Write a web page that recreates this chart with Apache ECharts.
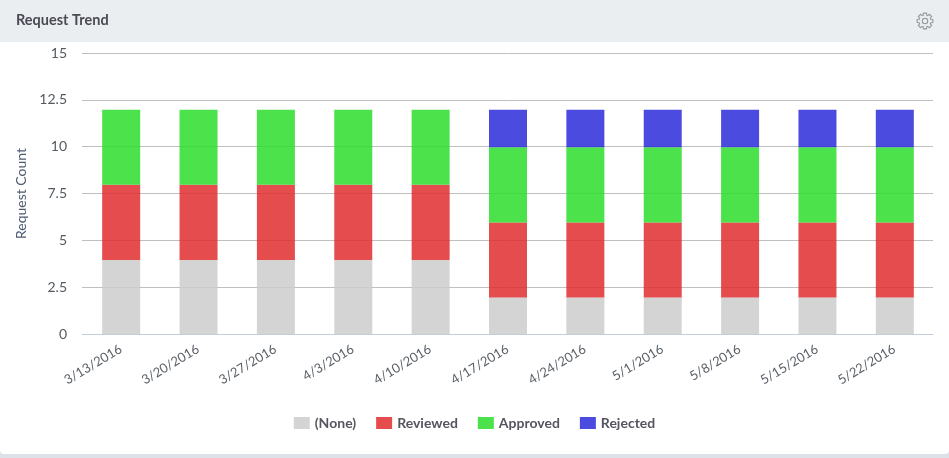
<!DOCTYPE html>
<html><head><meta charset="utf-8">
<style>html,body{margin:0;padding:0;background:#fff}#c{width:949px;height:458px}</style>
<script src="https://cdn.jsdelivr.net/npm/echarts@6/dist/echarts.min.js"></script>
</head><body><div id="c"></div>
<script>
const categories=['3/13/2016','3/20/2016','3/27/2016','4/3/2016','4/10/2016','4/17/2016','4/24/2016','5/1/2016','5/8/2016','5/15/2016','5/22/2016'];
const none=[4,4,4,4,4,2,2,2,2,2,2];
const reviewed=[4,4,4,4,4,4,4,4,4,4,4];
const approved=[4,4,4,4,4,4,4,4,4,4,4];
const rejected=[0,0,0,0,0,2,2,2,2,2,2];
const yTicks={min:0,max:15,interval:2.5};
const font='Lato';
const gearPts=[];
for(let i=0;i<8;i++){
  const a=i*Math.PI/4;
  [[-0.3,6],[-0.2,8],[0.2,8],[0.3,6]].forEach(([d,r])=>gearPts.push([r*Math.cos(a+d),r*Math.sin(a+d)]));
}
const mk=(name,data,color)=>({name,type:'bar',stack:'s',data,barWidth:38,xAxisIndex:1,yAxisIndex:1,
  itemStyle:{color,opacity:0.85},emphasis:{disabled:true}});
const chart=echarts.init(document.getElementById('c'),null,{renderer:'canvas'});
chart.setOption({
  animation:false,
  textStyle:{fontFamily:font},
  grid:[
    {left:82,right:16,top:53,bottom:124},
    {left:82.5,right:15.5,top:53.5,bottom:123}
  ],
  legend:{bottom:23,left:'center',itemWidth:16,itemHeight:12,itemGap:20,icon:'rect',selectedMode:false,
    itemStyle:{opacity:0.85},
    textStyle:{fontFamily:font,fontSize:14,fontWeight:'bold',color:'#555560'},
    data:['(None)','Reviewed','Approved','Rejected']},
  xAxis:[
    {type:'category',gridIndex:0,data:categories,z:5,
     axisLine:{lineStyle:{color:'#c0d0e0',width:1}},
     axisTick:{alignWithLabel:true,length:10,lineStyle:{color:'#c0d0e0'}},
     axisLabel:{rotate:31,interval:0,fontFamily:font,fontSize:13,color:'#5a6068',margin:14}},
    {type:'category',gridIndex:1,data:categories,show:false}
  ],
  yAxis:[
    {type:'value',gridIndex:0,min:yTicks.min,max:yTicks.max,interval:yTicks.interval,
     name:'Request Count',nameLocation:'middle',nameGap:45,
     nameTextStyle:{fontFamily:font,fontSize:14,color:'#4d5a70'},
     axisLine:{show:false},axisTick:{show:false},
     axisLabel:{fontFamily:font,fontSize:14,color:'#555a60',margin:15},
     splitLine:{lineStyle:{color:'#bfbfbf',width:1}}},
    {type:'value',gridIndex:1,min:yTicks.min,max:yTicks.max,interval:yTicks.interval,show:false,splitLine:{show:false}}
  ],
  series:[mk('(None)',none,'#cccccc'),mk('Reviewed',reviewed,'#e12d2f'),mk('Approved',approved,'#2cdd2c'),mk('Rejected',rejected,'#2c2cdb')],
  graphic:[
    {type:'rect',z:-1,shape:{x:0,y:0,width:949,height:42},style:{fill:'#ebeef1'}},
    {type:'rect',z:-2,shape:{x:0,y:446,width:949,height:12},style:{fill:'#dde2e8'}},
    {type:'rect',z:-1,shape:{x:0,y:440,width:949,height:14,r:[0,0,4,4]},style:{fill:'#ffffff'}},
    {type:'text',x:16,y:13,style:{text:'Request Trend',font:'bold 14.5px '+font,fill:'#4a4a55'}},
    {type:'polygon',x:925,y:21,shape:{points:gearPts},style:{fill:'none',stroke:'#979797',lineWidth:1.1}},
    {type:'circle',x:925,y:21,shape:{r:2.7},style:{fill:'none',stroke:'#979797',lineWidth:1.1}}
  ]
});
</script></body></html>
